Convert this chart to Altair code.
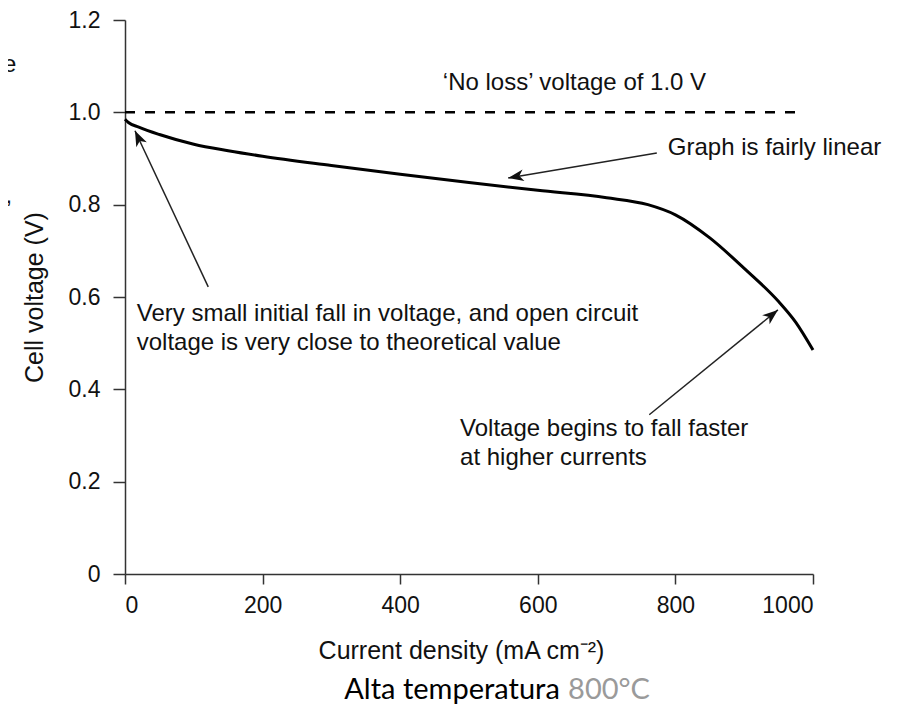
import math
import altair as alt
import pandas as pd

# ---- data ----
current = [0, 5, 20, 50, 100, 150, 200, 300, 400, 500, 600, 700, 760, 800, 850, 900, 950, 975, 1000]
voltage = [0.985, 0.978, 0.968, 0.952, 0.931, 0.917, 0.905, 0.885, 0.866, 0.848, 0.831, 0.815, 0.800,
           0.778, 0.728, 0.662, 0.590, 0.545, 0.485]

no_loss_current = [0, 981]
no_loss_voltage = [1.0, 1.0]

x_ticks = [0, 200, 400, 600, 800, 1000]
y_ticks = [0, 0.2, 0.4, 0.6, 0.8, 1.0, 1.2]

note_text = ["\u2018No loss\u2019 voltage of 1.0 V",
             "Graph is fairly linear",
             "Very small initial fall in voltage, and open circuit",
             "voltage is very close to theoretical value",
             "Voltage begins to fall faster",
             "at higher currents"]
note_x = [462, 789, 17, 17, 487, 487]
note_y = [1.048, 0.9076, 0.548, 0.486, 0.298, 0.236]

arrow_tail_x = [773, 121, 762]
arrow_tail_y = [0.912, 0.622, 0.345]
arrow_tip_x = [557, 14.5, 949]
arrow_tip_y = [0.858, 0.960, 0.572]

caption_main = "Alta temperatura"
caption_temp = "800\u00b0C"
caption_x = [632, 644]
caption_y = -0.2708

stray_text = ["e", ","]
stray_x = [-158, -164]
stray_y = [1.087, 0.8036]

W, H = 688, 554
FONT = "Liberation Sans"
INK = "#111111"

x_scale = alt.Scale(domain=[0, 1000], nice=False, zero=False)
y_scale = alt.Scale(domain=[0, 1.2], nice=False, zero=False)

curve_df = pd.DataFrame({"current": current, "voltage": voltage})
noloss_df = pd.DataFrame({"current": no_loss_current, "voltage": no_loss_voltage})
notes_df = pd.DataFrame({"text": note_text, "x": note_x, "y": note_y})

px_x = W / 1000.0
px_y = H / 1.2
angles = []
for tx, ty, hx, hy in zip(arrow_tail_x, arrow_tail_y, arrow_tip_x, arrow_tip_y):
    dx = (hx - tx) * px_x
    dy = -(hy - ty) * px_y
    angles.append((math.degrees(math.atan2(dx, -dy)) + 360) % 360)
arrows_df = pd.DataFrame({"x": arrow_tail_x, "y": arrow_tail_y, "x2": arrow_tip_x,
                          "y2": arrow_tip_y, "angle": angles})

cap_df = pd.DataFrame({"text": [caption_main], "x": [caption_x[0]], "y": [caption_y]})
cap2_df = pd.DataFrame({"text": [caption_temp], "x": [caption_x[1]], "y": [caption_y]})
stray_df = pd.DataFrame({"text": stray_text, "x": stray_x, "y": stray_y})

x_axis = alt.Axis(values=x_ticks, grid=False, domainColor="#333333", domainWidth=1.5,
                  tickColor="#333333", tickWidth=1.5, tickSize=10, labelFont=FONT,
                  labelFontSize=23, labelColor=INK, labelPadding=10, format="d",
                  title="Current density (mA cm\u207b\u00b2)", titleFont=FONT, titleFontSize=25,
                  titleFontWeight="normal", titleColor=INK, titleX=336, titleY=84,
                  titleBaseline="alphabetic")
y_axis = alt.Axis(values=y_ticks, grid=False, domainColor="#333333", domainWidth=1.5,
                  tickColor="#333333", tickWidth=1.5, tickSize=12, labelFont=FONT,
                  labelFontSize=23, labelColor=INK, labelPadding=13,
                  labelExpr="datum.value == 0 ? '0' : format(datum.value, '.1f')",
                  title="Cell voltage (V)", titleFont=FONT, titleFontSize=25,
                  titleFontWeight="normal", titleColor=INK, titleAngle=270,
                  titleX=-83, titleY=277, titleBaseline="alphabetic", titleAlign="center")

curve = alt.Chart(curve_df).mark_line(color="#000000", strokeWidth=3, interpolate="monotone").encode(
    x=alt.X("current:Q", scale=x_scale, axis=x_axis),
    y=alt.Y("voltage:Q", scale=y_scale, axis=y_axis),
)

noloss = alt.Chart(noloss_df).mark_line(color="#000000", strokeWidth=2.5, strokeDash=[10, 10]).encode(
    x=alt.X("current:Q", scale=x_scale),
    y=alt.Y("voltage:Q", scale=y_scale),
)

shafts = alt.Chart(arrows_df).mark_rule(color="#222222", strokeWidth=1.5).encode(
    x=alt.X("x:Q", scale=x_scale), y=alt.Y("y:Q", scale=y_scale),
    x2="x2:Q", y2="y2:Q",
)

heads = alt.Chart(arrows_df).mark_point(
    shape="M0,0L0.75,2L0,1.45L-0.75,2Z", filled=True, color="#111111", size=240, opacity=1
).encode(
    x=alt.X("x2:Q", scale=x_scale), y=alt.Y("y2:Q", scale=y_scale),
    angle=alt.Angle("angle:Q", scale=None),
)

notes = alt.Chart(notes_df).mark_text(align="left", baseline="alphabetic", font=FONT,
                                       fontSize=24, color=INK).encode(
    x=alt.X("x:Q", scale=x_scale), y=alt.Y("y:Q", scale=y_scale), text="text:N",
)

cap1 = alt.Chart(cap_df).mark_text(align="right", baseline="alphabetic", font="Lato",
                                   fontSize=29, color="#000000").encode(
    x=alt.X("x:Q", scale=x_scale), y=alt.Y("y:Q", scale=y_scale), text="text:N",
)
cap2 = alt.Chart(cap2_df).mark_text(align="left", baseline="alphabetic", font="Lato",
                                    fontSize=29, color="#9a9a9a").encode(
    x=alt.X("x:Q", scale=x_scale), y=alt.Y("y:Q", scale=y_scale), text="text:N",
)
stray = alt.Chart(stray_df).mark_text(align="right", baseline="alphabetic", font=FONT,
                                      fontSize=24, color=INK).encode(
    x=alt.X("x:Q", scale=x_scale), y=alt.Y("y:Q", scale=y_scale), text="text:N",
)

chart = alt.layer(noloss, curve, shafts, heads, notes, cap1, cap2, stray).properties(
    width=W, height=H,
    autosize=alt.AutoSizeParams(type="none"),
    padding={"left": 117, "top": 12, "right": 85, "bottom": 132},
).configure_view(stroke=None)

chart.save("out.html", embed_options={"renderer": "svg", "actions": False})
